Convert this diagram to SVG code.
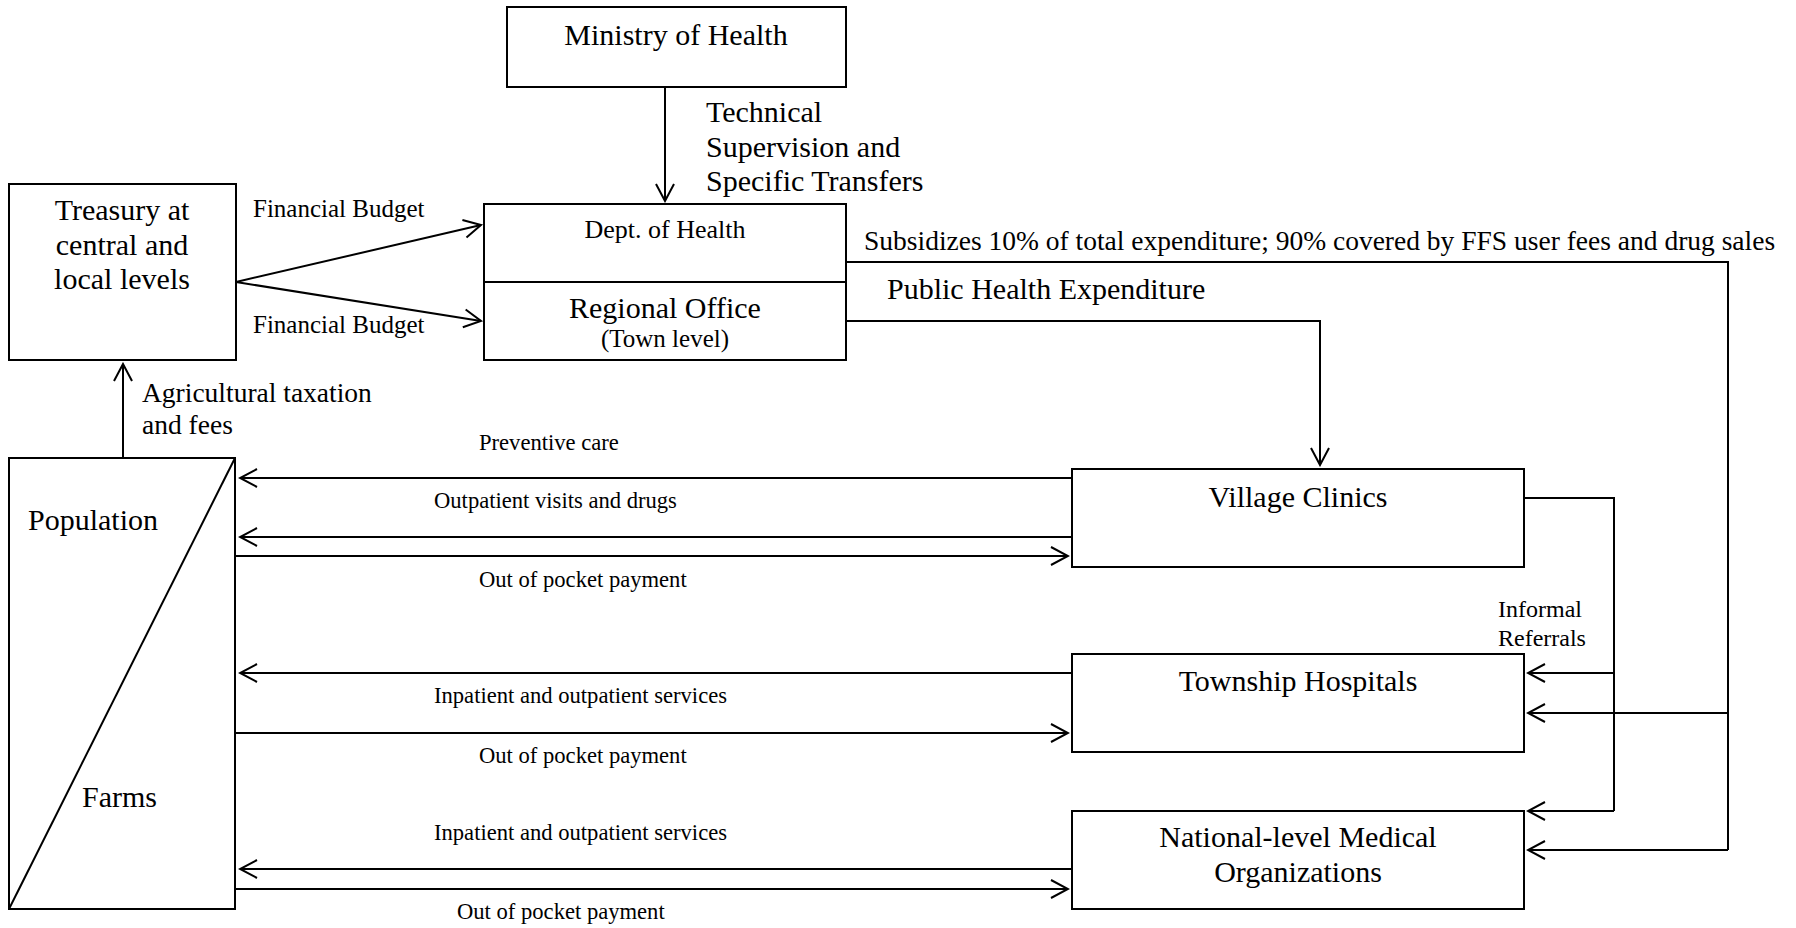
<svg xmlns="http://www.w3.org/2000/svg" width="1796" height="928" viewBox="0 0 1796 928">
<defs>
<style>
.box{fill:#fff;stroke:#000;stroke-width:2}
.ln{fill:none;stroke:#000;stroke-width:2}
.arr{fill:none;stroke:#000;stroke-width:2;marker-end:url(#ah)}
text{font-family:"Liberation Serif","Times New Roman",serif;fill:#000}
.big{font-size:30px}
.mid{font-size:27.5px}
.sm{font-size:25px}
.xs{font-size:22.6px}
.c{text-anchor:middle}
</style>
<marker id="ah" viewBox="-19 -11 21 22" refX="0" refY="0" markerWidth="21" markerHeight="22" markerUnits="userSpaceOnUse" orient="auto">
<path d="M-17,-9 L0,0 L-17,9" fill="none" stroke="#000" stroke-width="2"/>
</marker>
</defs>
<rect width="1796" height="928" fill="#fff"/>

<g id="connectors">
<line class="arr" x1="665" y1="87" x2="665" y2="201"/>
<line class="arr" x1="236" y1="282" x2="481" y2="225"/>
<line class="arr" x1="236" y1="282" x2="481" y2="321"/>
<line class="arr" x1="123" y1="458" x2="123" y2="364"/>
<polyline class="arr" points="846,321 1320,321 1320,465"/>
<polyline class="ln" points="846,262 1728,262 1728,850"/>
<line class="arr" x1="1728" y1="850" x2="1528" y2="850"/>
<line class="arr" x1="1728" y1="713" x2="1528" y2="713"/>
<polyline class="ln" points="1524,498 1614,498 1614,811"/>
<line class="arr" x1="1614" y1="811" x2="1528" y2="811"/>
<line class="arr" x1="1614" y1="673" x2="1528" y2="673"/>
<line class="arr" x1="1072" y1="478" x2="240" y2="478"/>
<line class="arr" x1="1072" y1="537" x2="240" y2="537"/>
<line class="arr" x1="235" y1="556" x2="1068" y2="556"/>
<line class="arr" x1="1072" y1="673" x2="240" y2="673"/>
<line class="arr" x1="235" y1="733" x2="1068" y2="733"/>
<line class="arr" x1="1072" y1="869" x2="240" y2="869"/>
<line class="arr" x1="235" y1="889" x2="1068" y2="889"/>
</g>

<g id="labels">
<text class="big" x="706" y="122">Technical</text>
<text class="big" x="706" y="157">Supervision and</text>
<text class="big" x="706" y="191">Specific Transfers</text>
<text class="sm" x="253" y="217">Financial Budget</text>
<text class="sm" x="253" y="333">Financial Budget</text>
<text class="mid" x="864" y="250">Subsidizes 10% of total expenditure; 90% covered by FFS user fees and drug sales</text>
<text class="big" x="887" y="299">Public Health Expenditure</text>
<text class="mid" x="142" y="402">Agricultural taxation</text>
<text class="mid" x="142" y="434">and fees</text>
<text class="xs" x="479" y="450">Preventive care</text>
<text class="xs" x="434" y="508">Outpatient visits and drugs</text>
<text class="xs" x="479" y="587">Out of pocket payment</text>
<text class="xs" x="434" y="703">Inpatient and outpatient services</text>
<text class="xs" x="479" y="763">Out of pocket payment</text>
<text class="xs" x="434" y="840">Inpatient and outpatient services</text>
<text class="xs" x="457" y="919">Out of pocket payment</text>
<text style="font-size:24px" x="1498" y="617">Informal</text>
<text style="font-size:24px" x="1498" y="646">Referrals</text>
</g>

<g id="ministry">
<rect class="box" x="507" y="7" width="339" height="80"/>
<text class="big c" x="676" y="45">Ministry of Health</text>
</g>

<g id="treasury">
<rect class="box" x="9" y="184" width="227" height="176"/>
<text class="big c" x="122" y="220">Treasury at</text>
<text class="big c" x="122" y="255">central and</text>
<text class="big c" x="122" y="289">local levels</text>
</g>

<g id="dept-health">
<rect class="box" x="484" y="204" width="362" height="78"/>
<text class="c" style="font-size:26px" x="665" y="238">Dept. of Health</text>
</g>

<g id="regional-office">
<rect class="box" x="484" y="282" width="362" height="78"/>
<text class="big c" x="665" y="318">Regional Office</text>
<text class="sm c" x="665" y="347">(Town level)</text>
</g>

<g id="population">
<rect class="box" x="9" y="458" width="226" height="451"/>
<line class="ln" x1="235" y1="458" x2="9" y2="909"/>
<text class="big" x="28" y="530">Population</text>
<text class="big" x="82" y="807">Farms</text>
</g>

<g id="village-clinics">
<rect class="box" x="1072" y="469" width="452" height="98"/>
<text class="big c" x="1298" y="507">Village Clinics</text>
</g>

<g id="township-hospitals">
<rect class="box" x="1072" y="654" width="452" height="98"/>
<text class="big c" x="1298" y="691">Township Hospitals</text>
</g>

<g id="national-medical">
<rect class="box" x="1072" y="811" width="452" height="98"/>
<text class="big c" x="1298" y="847">National-level Medical</text>
<text class="big c" x="1298" y="882">Organizations</text>
</g>
</svg>
